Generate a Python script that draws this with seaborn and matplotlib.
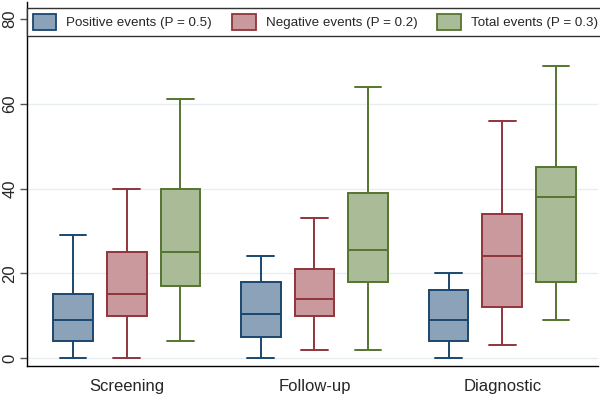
import numpy as np
import pandas as pd
import matplotlib.pyplot as plt
import seaborn as sns
from matplotlib.patches import Patch

# categories and series (box stats)
stages = ['Screening', 'Follow-up', 'Diagnostic']
series = ['Positive events (P = 0.5)', 'Negative events (P = 0.2)', 'Total events (P = 0.3)']

pos_min = [0, 0, 0]
pos_q1 = [4, 5, 4]
pos_med = [9, 10.5, 9]
pos_q3 = [15, 18, 16]
pos_max = [29, 24, 20]

neg_min = [0, 2, 3]
neg_q1 = [10, 10, 12]
neg_med = [15, 14, 24]
neg_q3 = [25, 21, 34]
neg_max = [40, 33, 56]

tot_min = [4, 2, 9]
tot_q1 = [17, 18, 18]
tot_med = [25, 25.5, 38]
tot_q3 = [40, 39, 45]
tot_max = [61, 64, 69]

stats = {
    series[0]: (pos_min, pos_q1, pos_med, pos_q3, pos_max),
    series[1]: (neg_min, neg_q1, neg_med, neg_q3, neg_max),
    series[2]: (tot_min, tot_q1, tot_med, tot_q3, tot_max),
}

# five points per box -> quartiles land exactly on the read values
rows = []
for s, cols in stats.items():
    for i, st in enumerate(stages):
        for v in (c[i] for c in cols):
            rows.append({'stage': st, 'series': s, 'value': v})
df = pd.DataFrame(rows)

edge_cols = ['#1a476f', '#90353b', '#55752f']
fill_cols = ['#8ca2b8', '#c9999d', '#aabb97']

sns.set_style('white')
plt.rcParams['font.family'] = ['Liberation Sans', 'DejaVu Sans']

fig, ax = plt.subplots(figsize=(6, 4.01), dpi=100)
fig.subplots_adjust(left=0.045, right=0.997, bottom=0.087, top=0.995)

sns.boxplot(data=df, x='stage', y='value', hue='series', order=stages,
            hue_order=series, palette=fill_cols, whis=(0, 100), width=0.86,
            gap=0.26, linewidth=1.4, legend=False, capwidths=0.14, ax=ax)

# colour each box with its series colour (boxes are drawn series by series)
for k, p in enumerate(ax.patches):
    h = k // 3
    p.set_edgecolor(edge_cols[h])
    p.set_facecolor(fill_cols[h])
lines_per_box = len(ax.lines) // 9
for k in range(9):
    h = k // 3
    for ln in ax.lines[k * lines_per_box:(k + 1) * lines_per_box]:
        ln.set_color(edge_cols[h])

for y in [0, 20, 40, 60, 80]:
    ax.axhline(y, color='#e6eef1', lw=1, zorder=0)

ax.set_xlim(-0.53, 2.51)
ax.set_ylim(-1.9, 84)
ax.set_yticks([0, 20, 40, 60, 80])
ax.set_xlabel('')
ax.set_ylabel('')
ax.tick_params(axis='y', left=True, length=5, width=1, color='#555555',
               labelsize=12, pad=2)
ax.tick_params(axis='x', bottom=False, labelsize=12, pad=6)
for lab in ax.get_yticklabels():
    lab.set_rotation(90)
    lab.set_va('center')
for side in ['top', 'right']:
    ax.spines[side].set_visible(False)
for side in ['left', 'bottom']:
    ax.spines[side].set_color('black')
    ax.spines[side].set_linewidth(1)

handles = [Patch(facecolor=fill_cols[i], edgecolor=edge_cols[i], lw=1.3) for i in range(3)]
leg = ax.legend(handles, series, ncol=3, loc='upper center',
                bbox_to_anchor=(0.505, 1.003), frameon=True, fancybox=False,
                edgecolor='#333333', fontsize=9.6, handlelength=1.75,
                handleheight=1.5, columnspacing=1.5, borderpad=0.45,
                handletextpad=0.75, framealpha=1)
leg.get_frame().set_linewidth(1)

fig.savefig('out.png', dpi=100)
